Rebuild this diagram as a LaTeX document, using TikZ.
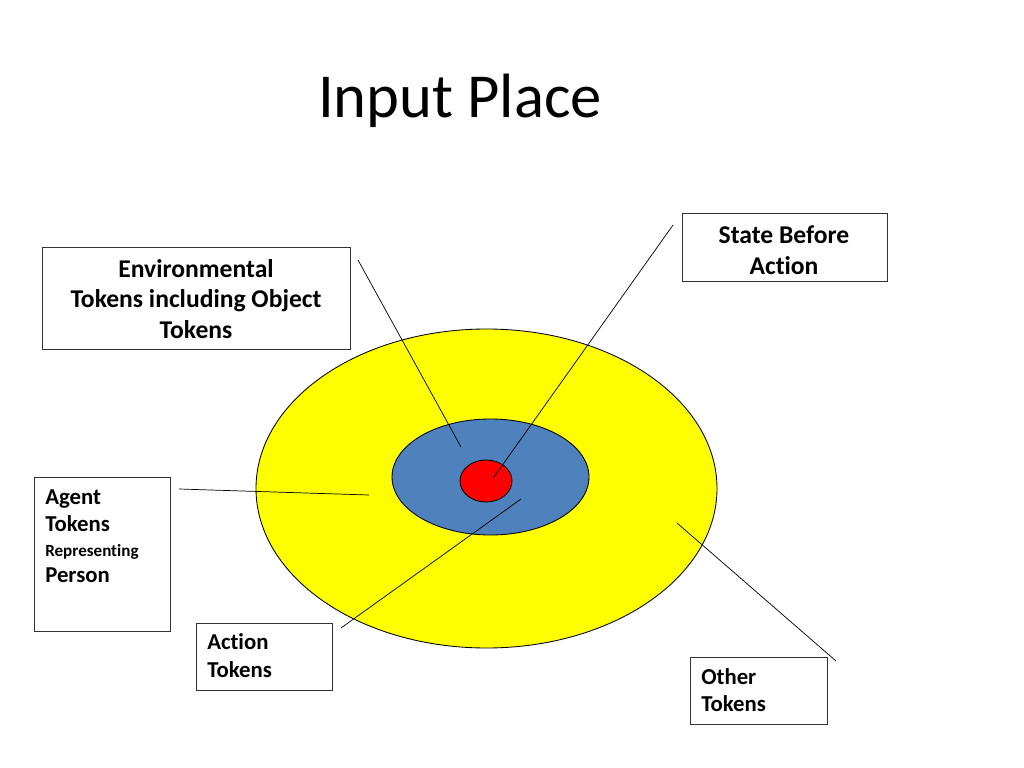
\documentclass[tikz,border=0pt]{standalone}
\usepackage{fontspec}
\setmainfont[Ligatures=NoCommon]{Carlito}
\usetikzlibrary{shapes.geometric}
\newdimen\pxunit
\pxunit=0.703125pt
\definecolor{ringyellow}{HTML}{FFFF00}
\definecolor{ringblue}{HTML}{4F81BD}
\definecolor{ringred}{HTML}{FF0000}
\begin{document}
\begin{tikzpicture}[x=1\pxunit, y=-1\pxunit,
  ring/.style = {draw, ellipse, line width=0.6pt},
  box/.style = {draw=black!80, rectangle, line width=0.7pt, anchor=north west},
  big/.style = {font=\fontsize{18}{21.6}\selectfont\bfseries, align=center, inner sep=0},
  small/.style = {font=\fontsize{16}{19.2}\selectfont\bfseries, align=left, inner sep=0, anchor=north west},
  link/.style = {line width=0.5pt}]
	\useasboundingbox (0,0) rectangle (1024,768);
	\node[font=\fontsize{44}{52}\selectfont, anchor=base] (title) at (460,118) {Input Place};
	\node[ring, fill=ringyellow, minimum width=461\pxunit, minimum height=319\pxunit] (outer) at (486.5,488.5) {};
	\node[ring, fill=ringblue, minimum width=197\pxunit, minimum height=116\pxunit] (inner) at (490.5,477) {};
	\node[ring, fill=ringred, minimum width=52\pxunit, minimum height=42\pxunit] (core) at (486,481) {};
	\node[box, minimum width=308\pxunit, minimum height=102\pxunit] (envbox) at (42,247) {};
	\node[big] (envtext) at (196,299) {Environmental\\Tokens including Object\\Tokens};
	\node[box, minimum width=205\pxunit, minimum height=68\pxunit] (statebox) at (682,213) {};
	\node[big] (statetext) at (784,250) {State Before\\Action};
	\node[box, minimum width=136\pxunit, minimum height=154\pxunit] (agentbox) at (34,477) {};
	\node[small] (agenttext) at (45,489.5) {Agent\\Tokens\\[-2pt]{\fontsize{12}{14}\selectfont Representing}\\[-1pt]Person};
	\node[box, minimum width=136\pxunit, minimum height=67\pxunit] (actionbox) at (196,623) {};
	\node[small] (actiontext) at (207,633.5) {Action\\Tokens};
	\node[box, minimum width=137\pxunit, minimum height=67\pxunit] (otherbox) at (690,657) {};
	\node[small] (othertext) at (701,668) {Other\\Tokens};
	\coordinate (envA) at (358,260);   \coordinate (envB) at (461,447);
	\coordinate (stateA) at (673,225); \coordinate (stateB) at (494,477);
	\coordinate (agentA) at (179,489); \coordinate (agentB) at (369,495);
	\coordinate (actionA) at (341,628); \coordinate (actionB) at (521,499);
	\coordinate (otherA) at (836,661); \coordinate (otherB) at (677,523);
	\draw[link] (envA) -- (envB);
	\draw[link] (stateA) -- (stateB);
	\draw[link] (agentA) -- (agentB);
	\draw[link] (actionA) -- (actionB);
	\draw[link] (otherA) -- (otherB);
\end{tikzpicture}
\end{document}
